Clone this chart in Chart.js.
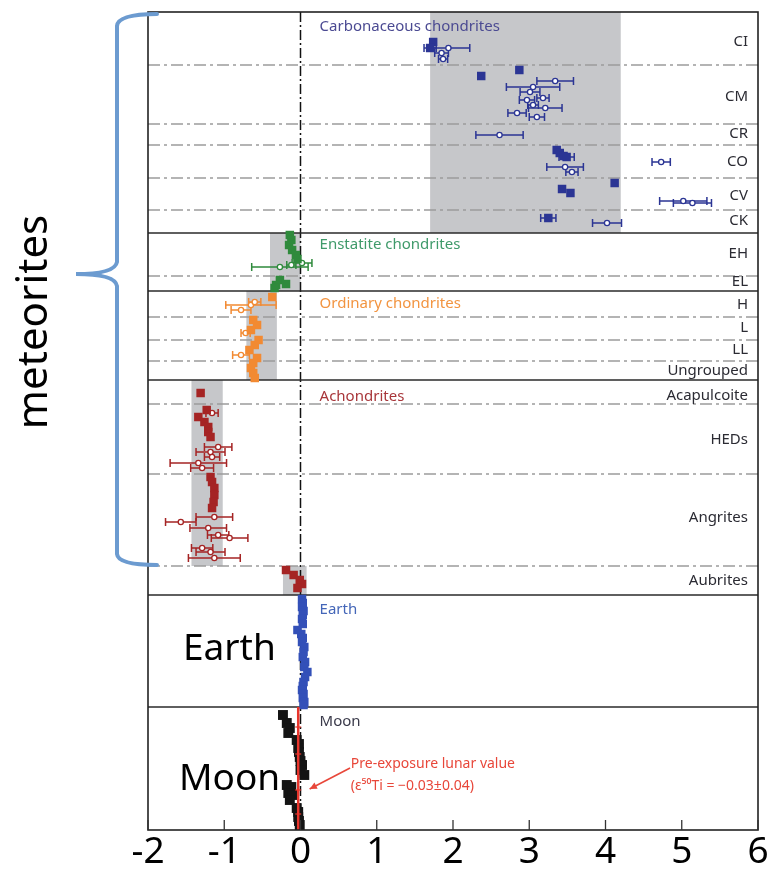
<!DOCTYPE html>
<html>
<head>
<meta charset="utf-8">
<script src="https://cdn.jsdelivr.net/npm/chart.js@4.4.0/dist/chart.umd.min.js"></script>
<style>
  body { margin: 0; background: #fff; }
  #wrap { width: 768px; height: 870px; }
</style>
</head>
<body>
<div id="wrap"><canvas id="c" width="768" height="870"></canvas></div>
<script>
// x = epsilon50Ti, y = vertical position of the sample in the strip (0 = top)
const xTicks = [-2, -1, 0, 1, 2, 3, 4, 5, 6];

// [x, y, error]
const carbFilled = [[1.74, 3.0, 0], [1.70, 3.6, 0.08], [2.37, 6.4, 0], [2.87, 5.8, 0], [3.36, 13.8, 0], [3.40, 14.1, 0],
  [3.45, 14.4, 0], [3.49, 14.5, 0.1], [3.43, 17.7, 0], [3.54, 18.1, 0], [4.12, 17.1, 0], [3.25, 20.6, 0.1]];
const carbOpen = [[1.94, 3.6, 0.28], [1.85, 4.1, 0.09], [1.87, 4.7, 0.06], [3.05, 7.5, 0.35], [3.34, 6.9, 0.24],
  [3.01, 8.0, 0.13], [2.97, 8.8, 0.10], [3.18, 8.6, 0.08], [3.05, 9.3, 0.07], [3.21, 9.6, 0.22], [2.84, 10.1, 0.12],
  [3.10, 10.5, 0.10], [2.61, 12.3, 0.31], [3.47, 15.5, 0.24], [3.56, 16.0, 0.08], [4.73, 15.0, 0.12],
  [5.02, 18.9, 0.31], [5.14, 19.1, 0.25], [4.02, 21.1, 0.19]];
const enstFilled = [[-0.14, 22.3, 0], [-0.12, 22.8, 0], [-0.15, 23.3, 0], [-0.11, 23.8, 0], [-0.06, 24.3, 0],
  [-0.04, 24.7, 0], [-0.27, 26.8, 0], [-0.19, 27.2, 0], [-0.32, 27.3, 0], [-0.34, 27.6, 0]];
const enstOpen = [[-0.27, 25.5, 0.37], [0.02, 25.1, 0.13], [-0.12, 25.3, 0.06]];
const ordFilled = [[-0.37, 28.5, 0], [-0.62, 30.8, 0], [-0.57, 31.3, 0], [-0.65, 31.8, 0], [-0.55, 32.8, 0],
  [-0.60, 33.3, 0], [-0.67, 33.8, 0], [-0.57, 34.6, 0], [-0.62, 35.1, 0], [-0.65, 35.6, 0], [-0.62, 36.1, 0], [-0.60, 36.6, 0]];
const ordOpen = [[-0.65, 29.3, 0.33], [-0.78, 29.8, 0.13], [-0.60, 29.0, 0.08], [-0.72, 32.1, 0.06], [-0.78, 34.3, 0.11]];
const achFilled = [[-1.31, 38.1, 0], [-1.23, 39.8, 0], [-1.34, 40.5, 0], [-1.26, 41.0, 0], [-1.21, 41.5, 0],
  [-1.21, 42.0, 0], [-1.18, 42.5, 0], [-1.18, 46.5, 0], [-1.16, 47.0, 0], [-1.13, 47.6, 0], [-1.13, 48.3, 0],
  [-1.14, 49.0, 0], [-1.16, 49.6, 0], [-0.19, 55.8, 0], [-0.09, 56.3, 0], [-0.01, 56.8, 0], [0.02, 57.2, 0], [-0.04, 57.6, 0]];
const achOpen = [[-1.16, 40.1, 0.08], [-1.08, 43.5, 0.18], [-1.18, 44.0, 0.19], [-1.16, 44.5, 0.10], [-1.34, 45.1, 0.37],
  [-1.29, 45.6, 0.15], [-1.13, 50.5, 0.24], [-1.57, 51.0, 0.20], [-1.21, 51.6, 0.24], [-1.08, 52.3, 0.14],
  [-0.93, 52.6, 0.24], [-1.29, 53.6, 0.14], [-1.18, 54.0, 0.19], [-1.13, 54.6, 0.34]];
const earthX = [0.02, 0.03, 0.02, 0.04, 0.03, 0.02, 0.03, -0.04, 0.01, 0.03, 0.02, 0.05, 0.04, 0.03, 0.06, 0.05,
  0.09, 0.06, 0.04, 0.03, 0.02, 0.04, 0.03, 0.05, 0.04];
const earthY = [58.7, 59.1, 59.5, 59.9, 60.3, 60.7, 61.2, 61.8, 62.2, 62.6, 63.0, 63.5, 64.0, 64.5, 65.0, 65.5,
  66.0, 66.5, 67.0, 67.4, 67.8, 68.2, 68.6, 69.0, 69.3];
const moonX = [-0.23, -0.18, -0.14, -0.16, -0.05, -0.02, -0.03, -0.02, -0.01, 0.0, 0.02, 0.0, 0.05, -0.18, -0.12,
  -0.16, -0.10, -0.14, -0.05, -0.03, -0.03, -0.02, -0.01];
const moonY = [70.3, 71.1, 71.6, 72.1, 72.8, 73.2, 73.6, 74.0, 74.5, 74.9, 75.3, 75.8, 76.3, 77.3, 77.5,
  78.1, 78.3, 78.8, 79.6, 80.0, 80.5, 80.9, 81.3];
const lunarValue = -0.03;

// shaded ranges [xmin, xmax, ytop, ybottom]
const bands = [[1.7, 4.2, 0, 22.1], [-0.4, 0.0, 22.1, 27.9], [-0.71, -0.31, 27.9, 36.8], [-1.43, -1.02, 36.8, 55.4], [-0.23, 0.08, 55.4, 58.3]];
const sectionLines = [22.1, 27.9, 36.8, 58.3, 69.5];
const groupLines = [5.3, 11.2, 13.3, 16.6, 19.8, 26.4, 30.5, 32.8, 34.9, 39.2, 46.2, 55.4];
const groupNames = ['CI', 'CM', 'CR', 'CO', 'CV', 'CK', 'EH', 'EL', 'H', 'L', 'LL', 'Ungrouped', 'Acapulcoite', 'HEDs', 'Angrites', 'Aubrites'];
const groupY = [3.0, 8.5, 12.2, 15.0, 18.4, 20.9, 24.2, 27.0, 29.3, 31.6, 33.8, 35.9, 38.4, 42.8, 50.6, 56.9];
const sectionNames = ['Carbonaceous chondrites', 'Enstatite chondrites', 'Ordinary chondrites', 'Achondrites', 'Earth', 'Moon'];
const sectionY = [1.5, 23.3, 29.2, 38.5, 59.8, 71.0];
const sectionColors = ['#4b4a92', '#3f9a6a', '#f29440', '#a8363a', '#4466b8', '#3a3a4a'];

const toPts = arr => arr.map(d => ({ x: d[0], y: d[1], e: d[2] }));
const FONT = '"Noto Sans", sans-serif';

function filled(data, color, r) {
  return { data: data, pointStyle: 'rect', pointRadius: r || 6, backgroundColor: color, borderColor: color, borderWidth: 0 };
}
function open(data, color) {
  return { data: data, pointStyle: 'circle', pointRadius: 2.6, backgroundColor: '#fff', borderColor: color, borderWidth: 1.3 };
}

const backdrop = {
  id: 'backdrop',
  beforeDatasetsDraw(chart) {
    const { ctx, chartArea: a, scales: { x, y } } = chart;
    ctx.save();
    ctx.fillStyle = '#c6c7ca';
    bands.forEach(b => {
      const x0 = x.getPixelForValue(b[0]), x1 = x.getPixelForValue(b[1]);
      const y0 = y.getPixelForValue(b[2]), y1 = y.getPixelForValue(b[3]);
      ctx.fillRect(x0, y0, x1 - x0, y1 - y0);
    });
    // dash-dot group separators
    ctx.strokeStyle = '#9c9c9c';
    ctx.lineWidth = 1.6;
    ctx.setLineDash([12, 4, 3, 4]);
    groupLines.forEach(v => {
      const py = y.getPixelForValue(v);
      ctx.beginPath(); ctx.moveTo(a.left, py); ctx.lineTo(a.right, py); ctx.stroke();
    });
    // zero line
    ctx.strokeStyle = '#111';
    ctx.lineWidth = 1.5;
    ctx.setLineDash([10, 3, 2, 3]);
    const x0 = x.getPixelForValue(0);
    ctx.beginPath(); ctx.moveTo(x0, a.top); ctx.lineTo(x0, a.bottom); ctx.stroke();
    ctx.setLineDash([]);
    // section separators
    ctx.strokeStyle = '#2a2a2a';
    ctx.lineWidth = 1.6;
    sectionLines.forEach(v => {
      const py = y.getPixelForValue(v);
      ctx.beginPath(); ctx.moveTo(a.left, py); ctx.lineTo(a.right, py); ctx.stroke();
    });
    // error bars
    chart.data.datasets.forEach(ds => {
      ctx.strokeStyle = ds.borderColor;
      ctx.lineWidth = 1.5;
      ds.data.forEach(p => {
        if (!p.e) return;
        const xl = x.getPixelForValue(p.x - p.e), xr = x.getPixelForValue(p.x + p.e), py = y.getPixelForValue(p.y);
        ctx.beginPath();
        ctx.moveTo(xl, py); ctx.lineTo(xr, py);
        ctx.moveTo(xl, py - 4); ctx.lineTo(xl, py + 4);
        ctx.moveTo(xr, py - 4); ctx.lineTo(xr, py + 4);
        ctx.stroke();
      });
    });
    ctx.restore();
  },
  afterDatasetsDraw(chart) {
    const { ctx, chartArea: a, scales: { x, y } } = chart;
    ctx.save();
    // lunar pre-exposure value
    const xl = x.getPixelForValue(lunarValue);
    ctx.strokeStyle = '#e8352c';
    ctx.lineWidth = 2.5;
    ctx.beginPath(); ctx.moveTo(xl, y.getPixelForValue(69.5)); ctx.lineTo(xl, a.bottom); ctx.stroke();
    ctx.lineWidth = 1.2;
    [71.5, 74.2, 77.8, 80.2].forEach(v => {
      const py = y.getPixelForValue(v);
      ctx.beginPath(); ctx.moveTo(xl - 3, py); ctx.lineTo(xl + 3, py); ctx.stroke();
    });
    // arrow
    const ax0 = x.getPixelForValue(0.65), ay0 = y.getPixelForValue(75.6);
    const ax1 = x.getPixelForValue(0.12), ay1 = y.getPixelForValue(77.7);
    ctx.strokeStyle = '#e8473a';
    ctx.fillStyle = '#e8473a';
    ctx.lineWidth = 1.6;
    ctx.beginPath(); ctx.moveTo(ax0, ay0); ctx.lineTo(ax1, ay1); ctx.stroke();
    const ang = Math.atan2(ay1 - ay0, ax1 - ax0);
    ctx.beginPath();
    ctx.moveTo(ax1, ay1);
    ctx.lineTo(ax1 - 8 * Math.cos(ang - 0.45), ay1 - 8 * Math.sin(ang - 0.45));
    ctx.lineTo(ax1 - 8 * Math.cos(ang + 0.45), ay1 - 8 * Math.sin(ang + 0.45));
    ctx.closePath(); ctx.fill();
    ctx.font = '14px ' + FONT;
    ctx.textBaseline = 'middle';
    ctx.textAlign = 'left';
    ctx.fillText('Pre-exposure lunar value', x.getPixelForValue(0.66), y.getPixelForValue(75.2));
    ctx.fillText('(\u03b5\u2075\u2070Ti = \u22120.03\u00b10.04)', x.getPixelForValue(0.66), y.getPixelForValue(77.4));
    // section titles
    ctx.font = '15px ' + FONT;
    sectionNames.forEach((s, i) => {
      ctx.fillStyle = sectionColors[i];
      ctx.fillText(s, x.getPixelForValue(0.25), y.getPixelForValue(sectionY[i]));
    });
    // group labels on the right
    ctx.fillStyle = '#2b2b33';
    ctx.textAlign = 'right';
    groupNames.forEach((s, i) => ctx.fillText(s, a.right - 10, y.getPixelForValue(groupY[i])));
    // frame + inner ticks
    ctx.strokeStyle = '#222';
    ctx.lineWidth = 1.6;
    ctx.strokeRect(a.left, a.top, a.right - a.left, a.bottom - a.top);
    ctx.strokeStyle = '#333';
    ctx.lineWidth = 1.3;
    xTicks.forEach(t => {
      const pxx = x.getPixelForValue(t);
      ctx.beginPath(); ctx.moveTo(pxx, a.bottom); ctx.lineTo(pxx, a.bottom - 10); ctx.stroke();
    });
    ctx.restore();
  },
  afterDraw(chart) {
    const { ctx } = chart;
    ctx.save();
    // big labels
    ctx.fillStyle = '#000';
    ctx.font = '37px ' + FONT;
    ctx.textAlign = 'left';
    ctx.textBaseline = 'alphabetic';
    ctx.fillText('Earth', 183, 660);
    ctx.fillText('Moon', 179, 790);
    ctx.save();
    ctx.translate(47, 322);
    ctx.rotate(-Math.PI / 2);
    ctx.font = '42px ' + FONT;
    ctx.textAlign = 'center';
    ctx.fillText('meteorites', 0, 0);
    ctx.restore();
    // curly brace
    ctx.strokeStyle = '#6c9bd0';
    ctx.lineWidth = 4;
    ctx.lineCap = 'round';
    ctx.beginPath();
    ctx.moveTo(157, 14);
    ctx.quadraticCurveTo(118, 14, 117, 26);
    ctx.lineTo(117, 262);
    ctx.quadraticCurveTo(115, 274, 76, 274);
    ctx.quadraticCurveTo(115, 274, 117, 286);
    ctx.lineTo(117, 554);
    ctx.quadraticCurveTo(118, 565, 157, 565);
    ctx.stroke();
    ctx.restore();
  }
};

new Chart(document.getElementById('c'), {
  type: 'scatter',
  data: {
    datasets: [
      filled(toPts(carbFilled), '#2b3594'),
      open(toPts(carbOpen), '#2b3594'),
      filled(toPts(enstFilled), '#2f8a3c'),
      open(toPts(enstOpen), '#2f8a3c'),
      filled(toPts(ordFilled), '#f28a32'),
      open(toPts(ordOpen), '#f28a32'),
      filled(toPts(achFilled), '#a52424'),
      open(toPts(achOpen), '#a52424'),
      filled(earthX.map((v, i) => ({ x: v, y: earthY[i], e: 0 })), '#3350b8'),
      filled(moonX.map((v, i) => ({ x: v, y: moonY[i], e: 0 })), '#141414', 7)
    ]
  },
  options: {
    responsive: false,
    animation: false,
    devicePixelRatio: 1,
    layout: { padding: { left: 148, right: 10, top: 12, bottom: -5 } },
    plugins: { legend: { display: false }, tooltip: { enabled: false } },
    scales: {
      x: {
        type: 'linear', min: -2, max: 6,
        grid: { display: false, drawTicks: false },
        border: { display: false },
        afterFit: s => { s.paddingRight = 10; },
        ticks: { stepSize: 1, padding: 4, color: '#000', font: { family: FONT, size: 37, lineHeight: 1 },
          callback: v => String(v) }
      },
      y: { type: 'linear', min: 0, max: 81.8, reverse: true, display: false }
    }
  },
  plugins: [backdrop]
});
</script>
</body>
</html>
